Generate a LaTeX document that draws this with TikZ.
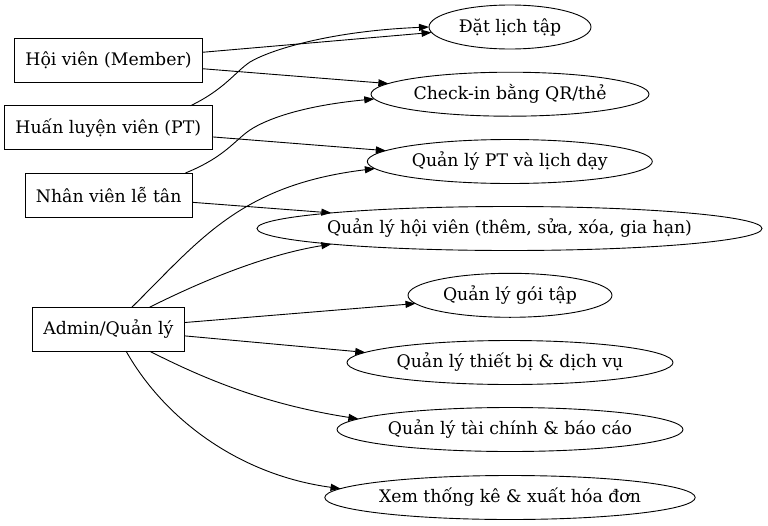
\documentclass[tikz,border=0pt]{standalone}
\usepackage{fontspec}
\setmainfont{DejaVu Serif}
\usetikzlibrary{arrows.meta,shapes.geometric}
\begin{document}
\begin{tikzpicture}[x=1pt,y=-1pt, every node/.style={font=\fontsize{17.3}{20}\selectfont}]
	\tikzstyle{actor}=[rectangle,draw,line width=0.9pt,minimum height=44pt,inner sep=0pt,outer sep=0pt]
	\tikzstyle{uc}=[ellipse,draw,line width=0.9pt,minimum height=44pt,inner sep=0pt,outer sep=0pt]
	\tikzstyle{arr}=[line width=0.9pt,-{Triangle[length=10pt,width=7pt]}]
	\useasboundingbox (0,0) rectangle (768,525);
	% actors
	\node[actor,minimum width=188pt](a1) at (108.5,60.5){Hội viên (Member)};
	\node[actor,minimum width=208pt](a2) at (108.3,127.8){Huấn luyện viên (PT)};
	\node[actor,minimum width=167pt](a3) at (108.7,195){Nhân viên lễ tân};
	\node[actor,minimum width=152pt](a4) at (108.3,329.2){Admin/Quản lý};
	% use cases
	\node[uc,minimum width=162pt](u1) at (510,27){Đặt lịch tập};
	\node[uc,minimum width=278pt](u2) at (510,94.2){Check-in bằng QR/thẻ};
	\node[uc,minimum width=285pt](u3) at (509.8,161.5){Quản lý PT và lịch dạy};
	\node[uc,minimum width=505pt,inner xsep=-4pt](u4) at (509.5,228.5){Quản lý hội viên (thêm, sửa, xóa, gia hạn)};
	\node[uc,minimum width=204pt](u5) at (510,295.3){Quản lý gói tập};
	\node[uc,minimum width=326pt](u6) at (510,362.5){Quản lý thiết bị \& dịch vụ};
	\node[uc,minimum width=346pt](u7) at (510,429.5){Quản lý tài chính \& báo cáo};
	\node[uc,minimum width=370pt](u8) at (510,497.5){Xem thống kê \& xuất hóa đơn};
	% straight connectors
	\path[arr] (a1.5) edge (u1.184)
	(a1.-5) edge (u2.175)
	(a2.-5) edge (u3.175)
	(a3.-5) edge (u4.175)
	(a4.5) edge (u5.185)
	(a4.-5) edge (u6.176);
	% curved connectors
	\draw[arr] (a2.15) .. controls (225,89) and (235,72) .. (250,62)
		.. controls (270,50) and (330,31) .. (u1.west);
	\draw[arr] (a3.16) .. controls (225,157) and (235,140) .. (250,130)
		.. controls (265,120) and (300,106) .. (u2.182);
	\draw[arr] (a4.43) .. controls (200,240) and (240,185) .. (u3.183);
	\draw[arr] (a4.28) .. controls (210,277) and (270,254) .. (u4.185);
	\draw[arr] (a4.-28) .. controls (210,382) and (270,405) .. (u7.176);
	\draw[arr] (a4.-51) .. controls (165,420) and (240,475) .. (u8.177);
\end{tikzpicture}
\end{document}
